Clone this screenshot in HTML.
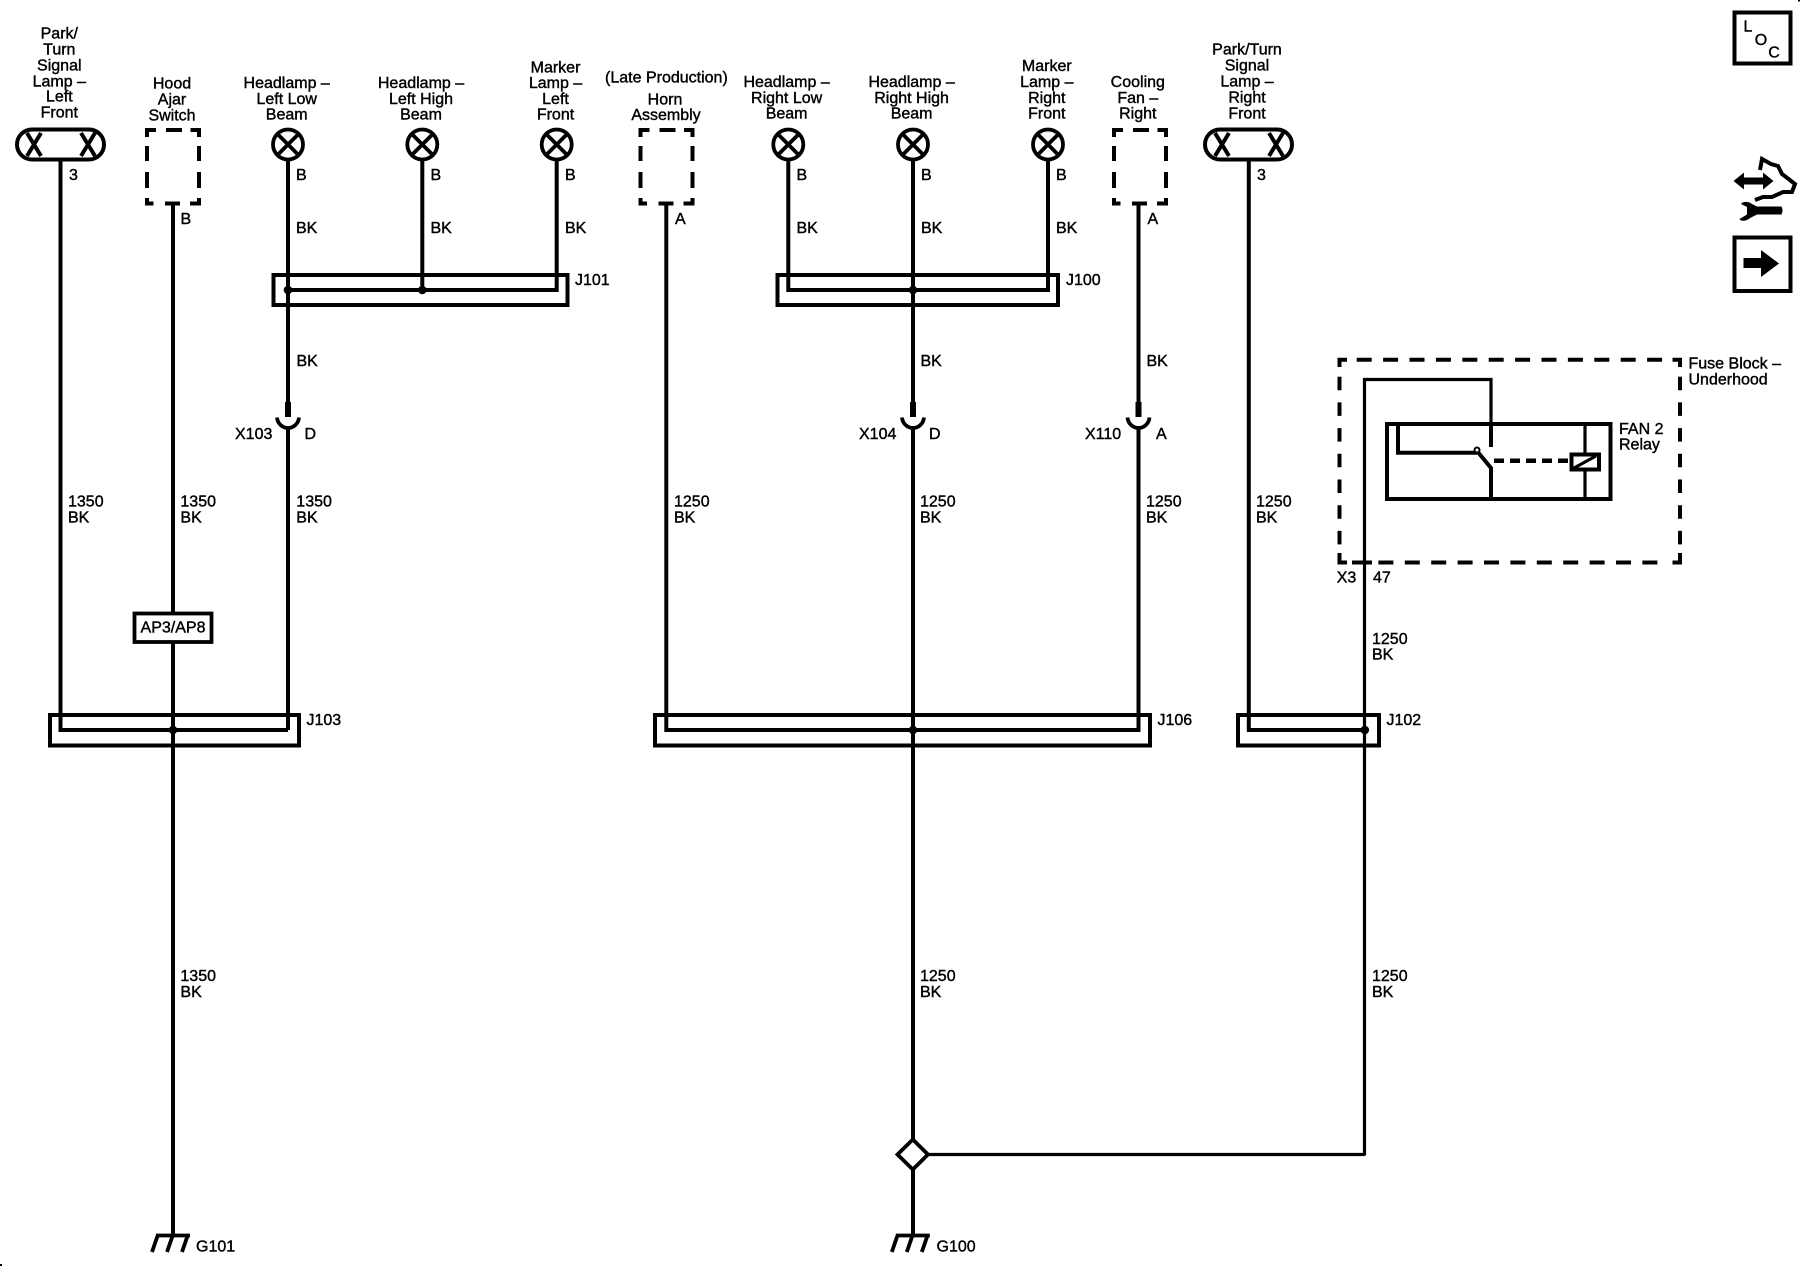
<!DOCTYPE html>
<html>
<head>
<meta charset="utf-8">
<style>
html,body{margin:0;padding:0;background:#fff;}
svg{display:block;}
text{font-family:"Liberation Sans",sans-serif;font-size:16px;fill:#000;stroke:#000;stroke-width:.4;}
.c{text-anchor:middle;}
.s{font-size:16px;}
.w{fill:none;stroke:#000;stroke-width:4;}
.t{fill:none;stroke:#000;stroke-width:3.2;}
.b{fill:none;stroke:#000;stroke-width:4;}
</style>
</head>
<body>
<svg width="1800" height="1280" viewBox="0 0 1800 1280" xmlns="http://www.w3.org/2000/svg">
<defs>
  <g id="lamp" fill="none" stroke="#000">
    <circle cx="0" cy="0" r="15" stroke-width="3.8"/>
    <path d="M-10.5 -10.5L10.5 10.5M10.5 -10.5L-10.5 10.5" stroke-width="3.8"/>
  </g>
  <g id="oval" fill="none" stroke="#000" stroke-width="4">
    <rect x="1.5" y="1.5" width="87" height="30" rx="15" ry="15"/>
    <path d="M11.5 5L25.5 28M25.5 5L11.5 28M65.5 5L79.5 28M79.5 5L65.5 28"/>
  </g>
  <path id="dbox" fill="none" stroke="#000" stroke-width="4" d="M147 137V130H156M166 130H182M190.5 130H199V137M147 146V161M199 146V161M147 172V188M199 172V188M147 198V203.5H153.5M165 203.5H180M190 203.5H199V198"/>
  <g id="gnd" fill="none" stroke="#000">
    <path d="M-17 0.5H17" stroke-width="3.8"/>
    <path d="M-15.5 1L-21 17M-0.5 1L-6 17M14.5 1L9 17" stroke-width="3.8"/>
  </g>
  <g id="conn" fill="none" stroke="#000">
    <path d="M0 -13V2" stroke-width="6"/>
    <path d="M-11 2.5C-10.5 9 -5 13 0 13C5 13 10.5 9 11 2.5" stroke-width="3.8"/>
  </g>
</defs>

<!-- Top labels -->
<g transform="translate(0,-0.5)">
<text class="c" x="59.3" y="39">Park/</text>
<text class="c" x="59.3" y="55">Turn</text>
<text class="c" x="59.3" y="71">Signal</text>
<text class="c" x="59.3" y="87">Lamp –</text>
<text class="c" x="59.3" y="102">Left</text>
<text class="c" x="59.3" y="118">Front</text>

<text class="c" x="172" y="89">Hood</text>
<text class="c" x="172" y="105">Ajar</text>
<text class="c" x="172" y="121">Switch</text>

<text class="c" x="286.7" y="88.5">Headlamp –</text>
<text class="c" x="286.7" y="104.5">Left Low</text>
<text class="c" x="286.7" y="120">Beam</text>

<text class="c" x="421" y="88.5">Headlamp –</text>
<text class="c" x="421" y="104.5">Left High</text>
<text class="c" x="421" y="120">Beam</text>

<text class="c" x="555.5" y="73">Marker</text>
<text class="c" x="555.5" y="88.5">Lamp –</text>
<text class="c" x="555.5" y="104.5">Left</text>
<text class="c" x="555.5" y="120">Front</text>

<text class="c" x="666.4" y="83">(Late Production)</text>
<text class="c" x="665" y="105">Horn</text>
<text class="c" x="666" y="120.5">Assembly</text>

<text class="c" x="786.6" y="87.5">Headlamp –</text>
<text class="c" x="786.6" y="103.5">Right Low</text>
<text class="c" x="786.6" y="119">Beam</text>

<text class="c" x="911.6" y="87.5">Headlamp –</text>
<text class="c" x="911.6" y="103.5">Right High</text>
<text class="c" x="911.6" y="119">Beam</text>

<text class="c" x="1046.8" y="71.5">Marker</text>
<text class="c" x="1046.8" y="87.5">Lamp –</text>
<text class="c" x="1046.8" y="103.5">Right</text>
<text class="c" x="1046.8" y="119">Front</text>

<text class="c" x="1137.8" y="87.5">Cooling</text>
<text class="c" x="1137.8" y="103.5">Fan –</text>
<text class="c" x="1137.8" y="119">Right</text>

<text class="c" x="1247" y="55">Park/Turn</text>
<text class="c" x="1247" y="71">Signal</text>
<text class="c" x="1247" y="87">Lamp –</text>
<text class="c" x="1247" y="103">Right</text>
<text class="c" x="1247" y="119">Front</text>
</g>

<!-- Components -->
<use href="#oval" x="15.5" y="128"/>
<use href="#oval" x="1203.5" y="128"/>
<use href="#dbox"/>
<use href="#dbox" x="493.5"/>
<use href="#dbox" x="967"/>
<use href="#lamp" x="288" y="144.5"/>
<use href="#lamp" x="422.3" y="144.5"/>
<use href="#lamp" x="556.7" y="144.5"/>
<use href="#lamp" x="788.3" y="144.5"/>
<use href="#lamp" x="913" y="144.5"/>
<use href="#lamp" x="1048" y="144.5"/>

<!-- Wires -->
<path class="w" d="M60.5 160V730H288M173 203V1236M288 160V402M288 426V730"/>
<path class="w" d="M422.3 160V290M556.7 160V290H288"/>
<path class="w" d="M666.3 203V730H1138.5V426M1138.5 402V203"/>
<path class="w" d="M788.3 160V290H1048V160M913 160V402M913 426V1140M913 1168V1236"/>
<path class="w" d="M1248.8 160V730H1365"/>
<path class="t" d="M1364.5 1155.5V379.5H1491V447M929 1154.5H1364.5"/>

<!-- Splice boxes -->
<rect class="b" x="50" y="715" width="249" height="30.5"/>
<rect class="b" x="273.5" y="275" width="294" height="30"/>
<rect class="b" x="777.5" y="275" width="280.5" height="30"/>
<rect class="b" x="655" y="715" width="495" height="30.5"/>
<rect class="b" x="1238" y="715" width="141" height="30.5"/>

<!-- Splice dots -->
<circle cx="288" cy="290" r="4.3"/>
<circle cx="422.3" cy="290" r="4.3"/>
<circle cx="913" cy="290" r="4.3"/>
<circle cx="173" cy="730" r="4.3"/>
<circle cx="913" cy="730" r="4.3"/>
<circle cx="1364.8" cy="730" r="4.3"/>

<!-- Inline connectors -->
<use href="#conn" x="288" y="415"/>
<use href="#conn" x="913" y="415"/>
<use href="#conn" x="1138.5" y="415"/>

<!-- AP3/AP8 -->
<rect x="134.5" y="613.5" width="77" height="28.5" fill="#fff" stroke="#000" stroke-width="3.8"/>
<text class="c" x="173" y="632.7">AP3/AP8</text>

<!-- Diamond -->
<path d="M912.8 1139.5L928 1154.5L912.8 1169.5L897.5 1154.5Z" fill="#fff" stroke="#000" stroke-width="3.8"/>

<!-- Grounds -->
<use href="#gnd" x="173" y="1235"/>
<use href="#gnd" x="912.8" y="1235"/>
<text x="196" y="1251.5">G101</text>
<text x="936.5" y="1251.5">G100</text>

<!-- Pin labels -->
<g>
<text class="s" x="69" y="180">3</text>
<text class="s" x="1257" y="180">3</text>
<text class="s" x="180.5" y="224">B</text>
<text class="s" x="296" y="180">B</text>
<text class="s" x="430.5" y="180">B</text>
<text class="s" x="565" y="180">B</text>
<text class="s" x="796.5" y="180">B</text>
<text class="s" x="921" y="180">B</text>
<text class="s" x="1056" y="180">B</text>
<text class="s" x="675" y="224">A</text>
<text class="s" x="1147.5" y="224">A</text>

<text x="296" y="233">BK</text>
<text x="430.5" y="233">BK</text>
<text x="565" y="233">BK</text>
<text x="796.5" y="233">BK</text>
<text x="921" y="233">BK</text>
<text x="1056" y="233">BK</text>

<text x="296.5" y="366">BK</text>
<text x="920.5" y="366">BK</text>
<text x="1146.5" y="366">BK</text>

<text x="575" y="285">J101</text>
<text x="1066" y="285">J100</text>
<text x="306.5" y="725">J103</text>
<text x="1157.5" y="725">J106</text>
<text x="1386.5" y="725">J102</text>

<text x="235" y="439">X103</text>
<text x="304.5" y="439">D</text>
<text x="859" y="439">X104</text>
<text x="929" y="439">D</text>
<text x="1085" y="439">X110</text>
<text x="1156" y="439">A</text>

<text x="68" y="506.7">1350</text><text x="68" y="522.7">BK</text>
<text x="180.4" y="506.7">1350</text><text x="180.4" y="522.7">BK</text>
<text x="296.3" y="506.7">1350</text><text x="296.3" y="522.7">BK</text>
<text x="674" y="506.7">1250</text><text x="674" y="522.7">BK</text>
<text x="920" y="506.7">1250</text><text x="920" y="522.7">BK</text>
<text x="1146" y="506.7">1250</text><text x="1146" y="522.7">BK</text>
<text x="1256" y="506.7">1250</text><text x="1256" y="522.7">BK</text>
<text x="1372" y="644">1250</text><text x="1372" y="659.3">BK</text>
<text x="180.4" y="981">1350</text><text x="180.4" y="996.8">BK</text>
<text x="920" y="981">1250</text><text x="920" y="996.8">BK</text>
<text x="1372" y="981">1250</text><text x="1372" y="996.8">BK</text>

<text x="1688.5" y="368.3">Fuse Block –</text>
<text x="1688.5" y="384.3">Underhood</text>
<text x="1619" y="434">FAN 2</text>
<text x="1619" y="449.5">Relay</text>
<text x="1336.7" y="582.5">X3</text>
<text x="1373" y="582.5">47</text>
</g>

<!-- Fuse block dashed -->
<g class="b">
<path d="M1339.5 367V359.7H1347"/>
<path d="M1356.7 359.7H1666" stroke-dasharray="15 11.4"/>
<path d="M1672.5 359.7H1680V367"/>
<path d="M1339.5 376.7V547" stroke-dasharray="13.5 12.2"/>
<path d="M1680 376.7V547" stroke-dasharray="13.5 12.2"/>
<path d="M1339.5 553V562.5H1347"/>
<path d="M1352 562.5H1666" stroke-dasharray="20 6.4 15 11.4 15 11.4 15 11.4 15 11.4 15 11.4 15 11.4 15 11.4 15 11.4 15 11.4 15 11.4 15 11.4"/>
<path d="M1672.5 562.5H1680V553"/>
</g>

<!-- Relay -->
<rect class="b" x="1387" y="424" width="223.5" height="75"/>
<path class="b" d="M1398 424V452.8H1477"/>
<path class="b" d="M1491 447V425"/>
<path class="b" d="M1477 451L1491 468V498"/>
<circle cx="1477" cy="450" r="2.5" fill="#fff" stroke="#000" stroke-width="2"/>
<path class="b" d="M1494 460.8H1570" stroke-dasharray="10 6" style="stroke-width:4.5"/>
<path class="t" d="M1585 424V453M1585 470V498"/>
<rect class="b" x="1571.5" y="454.5" width="27.5" height="15"/>
<path d="M1574 468L1596 456" fill="none" stroke="#000" stroke-width="3"/>

<!-- LOC -->
<rect class="b" x="1734.5" y="12.5" width="56" height="51"/>
<text class="c" x="1748" y="31.5">L</text>
<text class="c" x="1761" y="45">O</text>
<text class="c" x="1774" y="57.5">C</text>

<!-- Icon -->
<path d="M1733.5 181L1744 172.5V177.5H1763V172.5L1773.5 181L1763 189.5V184.5H1744V189.5Z" fill="#000"/>
<path d="M1760 170L1762 159L1771 164L1778 166L1782 174L1786 177L1795 184L1792 192L1783 192L1772 197L1763 197L1755 200" fill="none" stroke="#000" stroke-width="4"/>
<path d="M1757 206.5H1781.5Q1783.5 210.5 1781.5 214.5H1757L1750 218C1747 221 1741 222 1739.5 219L1747 214.5V207L1741 204C1743 201 1749 201.5 1752 204Z" fill="#000"/>

<!-- Arrow box -->
<rect class="b" x="1734.5" y="237.5" width="56" height="53.5"/>
<path d="M1743.5 258H1761V250L1779 263.5L1761 277V268H1743.5Z" fill="#000"/>

<!-- specks -->
<rect x="0" y="1264" width="2" height="2" fill="#000"/>
<rect x="1798" y="0" width="2" height="1.5" fill="#000"/>
</svg>
</body>
</html>
